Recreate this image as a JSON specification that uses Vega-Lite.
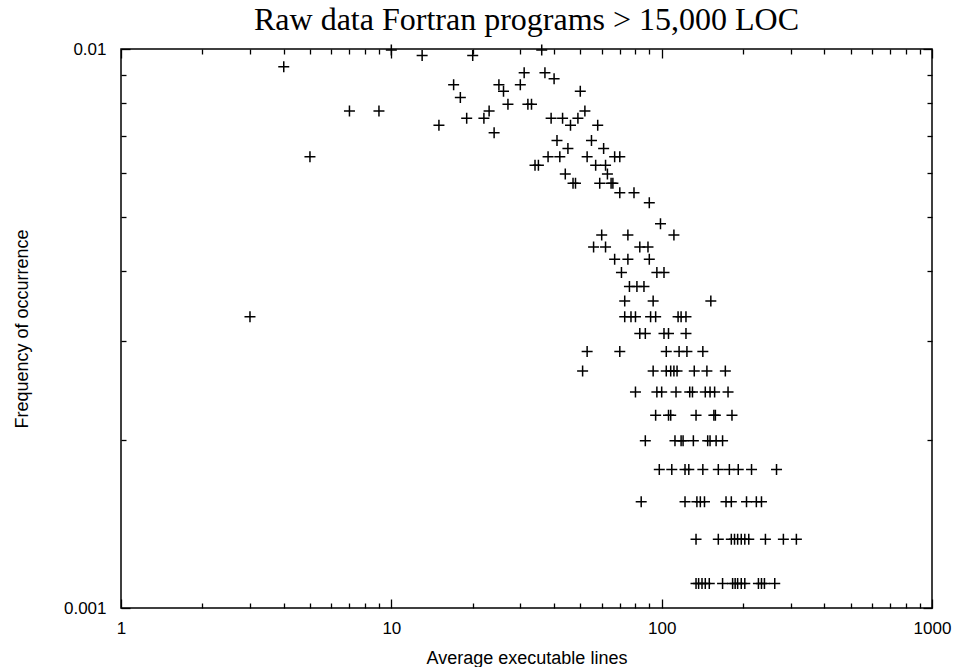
{
  "$schema": "https://vega.github.io/schema/vega-lite/v6.json",
  "width": 811,
  "height": 559,
  "autosize": {"type": "none"},
  "padding": {"left": 121, "top": 49, "right": 25, "bottom": 59},
  "background": "white",
  "title": {
    "text": "Raw data Fortran programs > 15,000 LOC",
    "font": "Liberation Serif",
    "fontSize": 32,
    "fontWeight": "normal",
    "color": "black",
    "anchor": "middle",
    "frame": "group",
    "baseline": "alphabetic",
    "offset": -22
  },
  "config": {
    "view": {"stroke": "black", "strokeWidth": 1.5},
    "axis": {
      "domain": false,
      "grid": false,
      "tickColor": "black",
      "tickWidth": 1.3,
      "labelColor": "black",
      "labelFont": "Liberation Sans",
      "labelFontSize": 17,
      "labelFlush": false,
      "labelOverlap": false,
      "titleColor": "black",
      "titleFont": "Liberation Sans",
      "titleFontSize": 18,
      "titleFontWeight": "normal"
    }
  },
  "data": {
    "values": [
      {"lines": 3, "freq": 0.003319},
      {"lines": 4, "freq": 0.009292},
      {"lines": 5, "freq": 0.006416},
      {"lines": 7, "freq": 0.007743},
      {"lines": 9, "freq": 0.007743},
      {"lines": 10, "freq": 0.009956},
      {"lines": 13, "freq": 0.009735},
      {"lines": 15, "freq": 0.007301},
      {"lines": 17, "freq": 0.008628},
      {"lines": 18, "freq": 0.008186},
      {"lines": 19, "freq": 0.007522},
      {"lines": 20, "freq": 0.009735},
      {"lines": 22, "freq": 0.007522},
      {"lines": 23, "freq": 0.007743},
      {"lines": 24, "freq": 0.00708},
      {"lines": 25, "freq": 0.008628},
      {"lines": 26, "freq": 0.008407},
      {"lines": 27, "freq": 0.007965},
      {"lines": 30, "freq": 0.008628},
      {"lines": 31, "freq": 0.009071},
      {"lines": 32, "freq": 0.007965},
      {"lines": 33, "freq": 0.007965},
      {"lines": 34, "freq": 0.006195},
      {"lines": 35, "freq": 0.006195},
      {"lines": 36, "freq": 0.009956},
      {"lines": 37, "freq": 0.009071},
      {"lines": 38, "freq": 0.006416},
      {"lines": 39, "freq": 0.007522},
      {"lines": 40, "freq": 0.00885},
      {"lines": 41, "freq": 0.006858},
      {"lines": 42, "freq": 0.006416},
      {"lines": 43, "freq": 0.007522},
      {"lines": 44, "freq": 0.005973},
      {"lines": 45, "freq": 0.006637},
      {"lines": 46, "freq": 0.007301},
      {"lines": 47, "freq": 0.005752},
      {"lines": 48, "freq": 0.005752},
      {"lines": 49, "freq": 0.007522},
      {"lines": 50, "freq": 0.008407},
      {"lines": 52, "freq": 0.007743},
      {"lines": 53, "freq": 0.006416},
      {"lines": 55, "freq": 0.006858},
      {"lines": 57, "freq": 0.006195},
      {"lines": 58, "freq": 0.007301},
      {"lines": 59, "freq": 0.005752},
      {"lines": 61, "freq": 0.006637},
      {"lines": 62, "freq": 0.006195},
      {"lines": 63, "freq": 0.005973},
      {"lines": 65, "freq": 0.005752},
      {"lines": 66, "freq": 0.005752},
      {"lines": 67, "freq": 0.006416},
      {"lines": 70, "freq": 0.006416},
      {"lines": 70, "freq": 0.005531},
      {"lines": 79, "freq": 0.005531},
      {"lines": 90, "freq": 0.00531},
      {"lines": 99, "freq": 0.004867},
      {"lines": 60, "freq": 0.004646},
      {"lines": 75, "freq": 0.004646},
      {"lines": 111, "freq": 0.004646},
      {"lines": 56, "freq": 0.004425},
      {"lines": 62, "freq": 0.004425},
      {"lines": 83, "freq": 0.004425},
      {"lines": 89, "freq": 0.004425},
      {"lines": 67, "freq": 0.004204},
      {"lines": 75, "freq": 0.004204},
      {"lines": 90, "freq": 0.004204},
      {"lines": 71, "freq": 0.003982},
      {"lines": 96, "freq": 0.003982},
      {"lines": 102, "freq": 0.003982},
      {"lines": 76, "freq": 0.003761},
      {"lines": 81, "freq": 0.003761},
      {"lines": 86, "freq": 0.003761},
      {"lines": 73, "freq": 0.00354},
      {"lines": 93, "freq": 0.00354},
      {"lines": 152, "freq": 0.00354},
      {"lines": 73, "freq": 0.003319},
      {"lines": 77, "freq": 0.003319},
      {"lines": 80, "freq": 0.003319},
      {"lines": 91, "freq": 0.003319},
      {"lines": 95, "freq": 0.003319},
      {"lines": 115, "freq": 0.003319},
      {"lines": 118, "freq": 0.003319},
      {"lines": 123, "freq": 0.003319},
      {"lines": 83, "freq": 0.003097},
      {"lines": 87, "freq": 0.003097},
      {"lines": 102, "freq": 0.003097},
      {"lines": 106, "freq": 0.003097},
      {"lines": 123, "freq": 0.003097},
      {"lines": 53, "freq": 0.002876},
      {"lines": 70, "freq": 0.002876},
      {"lines": 104, "freq": 0.002876},
      {"lines": 116, "freq": 0.002876},
      {"lines": 124, "freq": 0.002876},
      {"lines": 142, "freq": 0.002876},
      {"lines": 51, "freq": 0.002655},
      {"lines": 93, "freq": 0.002655},
      {"lines": 104, "freq": 0.002655},
      {"lines": 108, "freq": 0.002655},
      {"lines": 111, "freq": 0.002655},
      {"lines": 114, "freq": 0.002655},
      {"lines": 132, "freq": 0.002655},
      {"lines": 147, "freq": 0.002655},
      {"lines": 172, "freq": 0.002655},
      {"lines": 80, "freq": 0.002434},
      {"lines": 96, "freq": 0.002434},
      {"lines": 100, "freq": 0.002434},
      {"lines": 113, "freq": 0.002434},
      {"lines": 127, "freq": 0.002434},
      {"lines": 130, "freq": 0.002434},
      {"lines": 145, "freq": 0.002434},
      {"lines": 151, "freq": 0.002434},
      {"lines": 157, "freq": 0.002434},
      {"lines": 176, "freq": 0.002434},
      {"lines": 95, "freq": 0.002212},
      {"lines": 106, "freq": 0.002212},
      {"lines": 108, "freq": 0.002212},
      {"lines": 134, "freq": 0.002212},
      {"lines": 156, "freq": 0.002212},
      {"lines": 158, "freq": 0.002212},
      {"lines": 182, "freq": 0.002212},
      {"lines": 87, "freq": 0.001991},
      {"lines": 112, "freq": 0.001991},
      {"lines": 118, "freq": 0.001991},
      {"lines": 120, "freq": 0.001991},
      {"lines": 131, "freq": 0.001991},
      {"lines": 148, "freq": 0.001991},
      {"lines": 151, "freq": 0.001991},
      {"lines": 159, "freq": 0.001991},
      {"lines": 168, "freq": 0.001991},
      {"lines": 98, "freq": 0.00177},
      {"lines": 109, "freq": 0.00177},
      {"lines": 122, "freq": 0.00177},
      {"lines": 126, "freq": 0.00177},
      {"lines": 142, "freq": 0.00177},
      {"lines": 162, "freq": 0.00177},
      {"lines": 178, "freq": 0.00177},
      {"lines": 192, "freq": 0.00177},
      {"lines": 215, "freq": 0.00177},
      {"lines": 266, "freq": 0.00177},
      {"lines": 84, "freq": 0.001549},
      {"lines": 122, "freq": 0.001549},
      {"lines": 135, "freq": 0.001549},
      {"lines": 139, "freq": 0.001549},
      {"lines": 144, "freq": 0.001549},
      {"lines": 173, "freq": 0.001549},
      {"lines": 181, "freq": 0.001549},
      {"lines": 206, "freq": 0.001549},
      {"lines": 224, "freq": 0.001549},
      {"lines": 234, "freq": 0.001549},
      {"lines": 134, "freq": 0.001327},
      {"lines": 162, "freq": 0.001327},
      {"lines": 181, "freq": 0.001327},
      {"lines": 186, "freq": 0.001327},
      {"lines": 191, "freq": 0.001327},
      {"lines": 197, "freq": 0.001327},
      {"lines": 203, "freq": 0.001327},
      {"lines": 210, "freq": 0.001327},
      {"lines": 242, "freq": 0.001327},
      {"lines": 282, "freq": 0.001327},
      {"lines": 315, "freq": 0.001327},
      {"lines": 134, "freq": 0.001106},
      {"lines": 137, "freq": 0.001106},
      {"lines": 141, "freq": 0.001106},
      {"lines": 145, "freq": 0.001106},
      {"lines": 150, "freq": 0.001106},
      {"lines": 168, "freq": 0.001106},
      {"lines": 183, "freq": 0.001106},
      {"lines": 187, "freq": 0.001106},
      {"lines": 191, "freq": 0.001106},
      {"lines": 197, "freq": 0.001106},
      {"lines": 203, "freq": 0.001106},
      {"lines": 228, "freq": 0.001106},
      {"lines": 234, "freq": 0.001106},
      {"lines": 240, "freq": 0.001106},
      {"lines": 262, "freq": 0.001106}
    ]
  },
  "layer": [
    {
      "mark": {
        "type": "point",
        "shape": "M -1 0 L 1 0 M 0 -1 L 0 1",
        "size": 121,
        "filled": false,
        "stroke": "black",
        "strokeWidth": 1.5,
        "opacity": 1
      },
      "encoding": {
        "x": {
          "field": "lines",
          "type": "quantitative",
          "scale": {"type": "log", "domain": [1, 1000], "nice": false},
          "axis": {
            "orient": "bottom",
            "values": [1, 2, 3, 4, 5, 6, 7, 8, 9, 10, 20, 30, 40, 50, 60, 70, 80, 90, 100, 200, 300, 400, 500, 600, 700, 800, 900, 1000],
            "tickSize": {"condition": {"test": "datum.value == 1 || datum.value == 10 || datum.value == 100 || datum.value == 1000", "value": -9}, "value": -5},
            "labelExpr": "datum.value == 1 || datum.value == 10 || datum.value == 100 || datum.value == 1000 ? format(datum.value, 'd') : ''",
            "labelPadding": 21,
            "labelBaseline": "top",
            "title": "Average executable lines",
            "titlePadding": 9
          }
        },
        "y": {
          "field": "freq",
          "type": "quantitative",
          "scale": {"type": "log", "domain": [0.001, 0.01], "nice": false},
          "axis": {
            "orient": "left",
            "values": [0.001, 0.002, 0.003, 0.004, 0.005, 0.006, 0.007, 0.008, 0.009, 0.01],
            "tickSize": {"condition": {"test": "datum.value == 0.001 || datum.value == 0.01", "value": -9}, "value": -5},
            "labelExpr": "datum.value == 0.01 ? '0.01' : (datum.value == 0.001 ? '0.001' : '')",
            "labelPadding": 24,
            "labelBaseline": "middle",
            "title": "Frequency of occurrence",
            "titlePadding": 32
          }
        }
      }
    },
    {
      "mark": {"type": "point", "opacity": 0},
      "encoding": {
        "x": {
          "field": "lines",
          "type": "quantitative",
          "scale": {"type": "log", "domain": [1, 1000], "nice": false},
          "axis": {
            "orient": "top",
            "values": [1, 2, 3, 4, 5, 6, 7, 8, 9, 10, 20, 30, 40, 50, 60, 70, 80, 90, 100, 200, 300, 400, 500, 600, 700, 800, 900, 1000],
            "tickSize": {"condition": {"test": "datum.value == 1 || datum.value == 10 || datum.value == 100 || datum.value == 1000", "value": -9}, "value": -5},
            "labels": false,
            "title": null,
            "minExtent": 0,
            "maxExtent": 0
          }
        },
        "y": {
          "field": "freq",
          "type": "quantitative",
          "scale": {"type": "log", "domain": [0.001, 0.01], "nice": false},
          "axis": {
            "orient": "right",
            "values": [0.001, 0.002, 0.003, 0.004, 0.005, 0.006, 0.007, 0.008, 0.009, 0.01],
            "tickSize": {"condition": {"test": "datum.value == 0.001 || datum.value == 0.01", "value": -9}, "value": -5},
            "labels": false,
            "title": null,
            "minExtent": 0,
            "maxExtent": 0
          }
        }
      }
    }
  ],
  "resolve": {"axis": {"x": "independent", "y": "independent"}}
}
